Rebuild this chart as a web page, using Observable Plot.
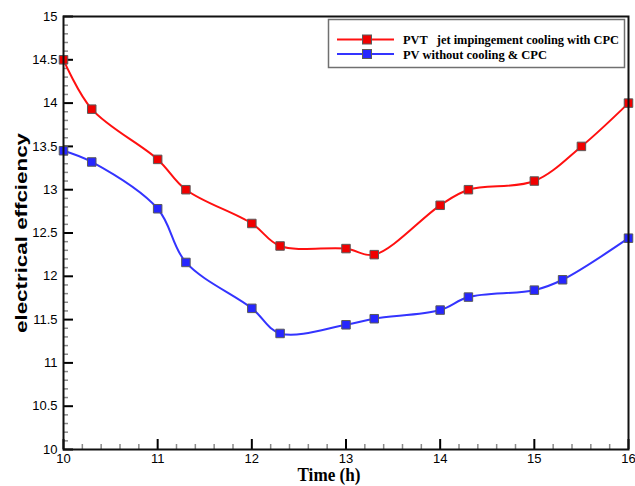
<!DOCTYPE html>
<html>
<head>
<meta charset="utf-8">
<script src="https://cdn.jsdelivr.net/npm/d3@7"></script>
<script src="https://cdn.jsdelivr.net/npm/@observablehq/plot@0.6"></script>
<style>
  body { margin: 0; background: #fff; }
</style>
</head>
<body>
<div id="chart"></div>
<script>
// Electrical efficiency over the day for the two collector set-ups
const timeJet = [10, 10.3, 11, 11.3, 12, 12.3, 13, 13.3, 14, 14.3, 15, 15.5, 16];
const effJet  = [14.5, 13.93, 13.35, 13.0, 12.61, 12.35, 12.32, 12.25, 12.82, 13.0, 13.1, 13.5, 14.0];
const timePv  = [10, 10.3, 11, 11.3, 12, 12.3, 13, 13.3, 14, 14.3, 15, 15.3, 16];
const effPv   = [13.45, 13.32, 12.78, 12.16, 11.63, 11.34, 11.44, 11.51, 11.61, 11.76, 11.84, 11.96, 12.44];

const seriesNames = ["PVT   jet impingement cooling with CPC", "PV without cooling & CPC"];
const lineColors = ["#ff1010", "#3434ff"];
const markerFills = ["#f00000", "#2626ff"];

const xTicks = [10, 11, 12, 13, 14, 15, 16];
const yTicks = [10, 10.5, 11, 11.5, 12, 12.5, 13, 13.5, 14, 14.5, 15];
const xMinor = d3.range(50, 81).map(d => d / 5).filter(d => !xTicks.includes(d));
const yMinor = d3.range(100, 151).map(d => d / 10).filter(d => !yTicks.includes(d));

const xLabel = "Time (h)";
const yLabel = "electrical effciency";

const W = 635, H = 486;
const mL = 63, mR = 7, mT = 16, mB = 37;
const plotW = W - mL - mR, plotH = H - mT - mB;

const jet = timeJet.map((t, i) => ({t, e: effJet[i]}));
const pv = timePv.map((t, i) => ({t, e: effPv[i]}));

const chart = Plot.plot({
  width: W,
  height: H,
  marginLeft: mL,
  marginRight: mR,
  marginTop: mT,
  marginBottom: mB,
  x: {domain: [10, 16]},
  y: {domain: [10, 15]},
  style: {fontFamily: "'Liberation Sans', Arial, sans-serif", fontSize: "13px", color: "#000", background: "#fff"},
  marks: [
    // inward tick marks along the left and bottom edges
    Plot.ruleY(yMinor, {y: d => d, stroke: "#8a8a8a", strokeWidth: 1.5, insetRight: plotW - 5}),
    Plot.ruleY(yTicks, {y: d => d, stroke: "#000", strokeWidth: 2, insetRight: plotW - 10}),
    Plot.ruleX(xMinor, {x: d => d, stroke: "#8a8a8a", strokeWidth: 1.5, insetTop: plotH - 5}),
    Plot.ruleX(xTicks, {x: d => d, stroke: "#000", strokeWidth: 2, insetTop: plotH - 10}),
    Plot.axisY({ticks: yTicks, tickSize: 0, tickPadding: 6, label: null, tickFormat: d => String(d)}),
    Plot.axisX({ticks: xTicks, tickSize: 0, tickPadding: 4, label: null, tickFormat: d => String(d)}),
    Plot.line(jet, {x: "t", y: "e", stroke: lineColors[0], strokeWidth: 2, curve: "catmull-rom"}),
    Plot.line(pv, {x: "t", y: "e", stroke: lineColors[1], strokeWidth: 2, curve: "catmull-rom"}),
    Plot.dot(jet, {x: "t", y: "e", symbol: "square", r: 4.8, fill: markerFills[0], stroke: "#5a5a5a", strokeWidth: 1}),
    Plot.dot(pv, {x: "t", y: "e", symbol: "square", r: 4.8, fill: markerFills[1], stroke: "#5a5a5a", strokeWidth: 1}),
    Plot.frame({stroke: "#111", strokeWidth: 2})
  ]
});

document.getElementById("chart").appendChild(chart);
const svg = d3.select(chart);

// axis titles
svg.append("text")
  .attr("transform", "translate(27,233) rotate(-90)")
  .attr("text-anchor", "middle")
  .attr("font-family", "'Liberation Sans', Arial, sans-serif")
  .attr("font-weight", "bold")
  .attr("font-size", 17)
  .attr("textLength", 200)
  .attr("lengthAdjust", "spacingAndGlyphs")
  .attr("fill", "#000")
  .text(yLabel);

svg.append("text")
  .attr("x", 329)
  .attr("y", 481)
  .attr("text-anchor", "middle")
  .attr("font-family", "'Liberation Serif', 'Times New Roman', serif")
  .attr("font-weight", "bold")
  .attr("font-size", 18)
  .attr("textLength", 63)
  .attr("lengthAdjust", "spacingAndGlyphs")
  .attr("fill", "#000")
  .text(xLabel);

// legend box
const legendTextWidths = [216, 144];
const lg = svg.append("g").attr("text-anchor", "start");
lg.append("rect")
  .attr("x", 328.5).attr("y", 19.5).attr("width", 296).attr("height", 48)
  .attr("fill", "#fff").attr("stroke", "#707070").attr("stroke-width", 1.5);
seriesNames.forEach((name, i) => {
  const y = 39.5 + i * 14.5;
  lg.append("line")
    .attr("x1", 337).attr("x2", 394).attr("y1", y).attr("y2", y)
    .attr("stroke", lineColors[i]).attr("stroke-width", 2);
  lg.append("rect")
    .attr("x", 362.5).attr("y", y - 4.5).attr("width", 9).attr("height", 9)
    .attr("fill", markerFills[i]).attr("stroke", "#5a5a5a");
  lg.append("text")
    .attr("x", 403).attr("y", y + 4.5)
    .attr("text-anchor", "start")
    .attr("font-family", "'Liberation Serif', 'Times New Roman', serif")
    .attr("font-weight", "bold")
    .attr("font-size", 12.6)
    .attr("textLength", legendTextWidths[i])
    .attr("lengthAdjust", "spacingAndGlyphs")
    .style("white-space", "pre")
    .attr("fill", "#000")
    .text(name);
});
</script>
</body>
</html>
